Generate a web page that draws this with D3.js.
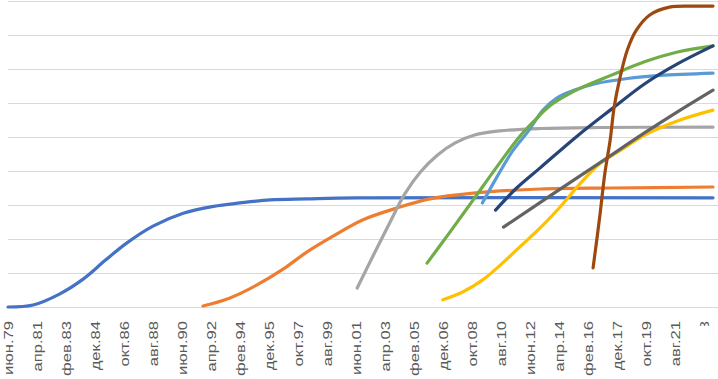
<!DOCTYPE html>
<html>
<head>
<meta charset="utf-8">
<script src="https://cdn.jsdelivr.net/npm/d3@7"></script>
<style>
  body { margin: 0; background: #fff; }
  svg { display: block; }
</style>
</head>
<body>
<div id="chart"></div>
<script>
// tick labels, every 22 months from June 1979
const tickLabels = ['июн.79', 'апр.81', 'фев.83', 'дек.84', 'окт.86', 'авг.88', 'июн.90',
  'апр.92', 'фев.94', 'дек.95', 'окт.97', 'авг.99', 'июн.01', 'апр.03', 'фев.05', 'дек.06',
  'окт.08', 'авг.10', 'июн.12', 'апр.14', 'фев.16', 'дек.17', 'окт.19', 'авг.21', 'июн.23'];

const s1 = [['1979-06', 0], ['1981-01', 0.6], ['1982-09', 3.8], ['1984-03', 8.2], ['1985-08', 13.8],
  ['1986-12', 18.8], ['1988-08', 23.8], ['1990-07', 27.6], ['1992-06', 29.6], ['1994-02', 30.6],
  ['1996-01', 31.5], ['1998-05', 31.8], ['2001-07', 32.1], ['2024-01', 32.1]];
const s2 = [['1991-10', 0.3], ['1993-06', 2.6], ['1995-03', 6.5], ['1996-11', 11.2], ['1998-05', 16.2],
  ['2000-01', 20.9], ['2001-11', 25.6], ['2004-01', 29.1], ['2006-02', 31.8], ['2008-11', 33.5],
  ['2013-02', 34.7], ['2017-09', 35], ['2024-01', 35.3]];
const s3 = [['2001-07', 5.6], ['2002-07', 15], ['2003-08', 25], ['2004-07', 33.2], ['2005-07', 39.7],
  ['2006-08', 44.7], ['2007-09', 48.2], ['2008-12', 50.6], ['2010-07', 51.8], ['2013-02', 52.5],
  ['2016-11', 52.8], ['2024-01', 52.9]];
const s4 = [['2006-12', 2.1], ['2008-03', 4.4], ['2009-06', 7.9], ['2010-07', 12.1], ['2011-08', 16.8],
  ['2013-04', 24.1], ['2014-05', 29.4], ['2015-08', 36.2], ['2016-11', 42.1], ['2018-02', 45.9],
  ['2019-11', 50.9], ['2021-12', 55], ['2024-01', 57.9]];
const s5 = [['2009-06', 30.6], ['2010-05', 38.2], ['2011-05', 45.9], ['2012-05', 51.8], ['2013-04', 57.9],
  ['2014-03', 61.6], ['2015-04', 63.8], ['2016-07', 65.6], ['2018-08', 67.2], ['2020-09', 68.1],
  ['2024-01', 68.8]];
const s6 = [['2005-12', 12.9], ['2007-05', 21.8], ['2008-11', 31.5], ['2010-05', 41.2], ['2011-10', 50],
  ['2012-10', 55], ['2013-09', 59.1], ['2014-09', 62.1], ['2015-08', 64.3], ['2017-08', 68.2],
  ['2019-09', 72.1], ['2021-10', 75], ['2024-01', 76.8]];
const s7 = [['2010-04', 28.5], ['2011-08', 35], ['2013-02', 41], ['2015-07', 50.6],
  ['2017-08', 58.2], ['2019-09', 65.6], ['2021-10', 71.5], ['2024-01', 76.8]];
const s8 = [['2010-10', 23.5], ['2013-09', 32.6], ['2016-11', 42.4], ['2019-09', 51.2],
  ['2021-10', 57.4], ['2024-01', 63.8]];
const s9 = [['2016-06', 11.5], ['2016-11', 26.5], ['2017-03', 39.4], ['2017-07', 49.1], ['2017-10', 58.8],
  ['2018-02', 66.8], ['2018-08', 75.6], ['2019-03', 81.5], ['2020-01', 85.9], ['2021-04', 88.2],
  ['2022-10', 88.5], ['2024-01', 88.5]];

const series = [s1, s2, s3, s4, s5, s6, s7, s8, s9];
const colors = ['#4472C4', '#ED7D31', '#A5A5A5', '#FFC000', '#5B9BD5', '#70AD47', '#264478', '#636363', '#9E480E'];

const dimensions = { width: 718, height: 379 };
const parse = d3.timeParse('%Y-%m');

const svg = d3.select('#chart')
  .append('svg')
  .attr('width', dimensions.width)
  .attr('height', dimensions.height);

const x = d3.scaleTime()
  .domain([parse('1979-06'), parse('2024-01')])
  .range([8, 713]);

const y = d3.scaleLinear()
  .domain([0, 90])
  .range([307, 1]);

// gridlines
svg.append('g')
  .selectAll('line')
  .data(y.ticks(9))
  .join('line')
  .attr('x1', 8)
  .attr('x2', 718)
  .attr('y1', d => Math.round(y(d)) + 0.5)
  .attr('y2', d => Math.round(y(d)) + 0.5)
  .attr('stroke', '#d9d9d9')
  .attr('stroke-width', 1.2);

// x axis labels
const tickDates = tickLabels.map((_, i) => d3.timeMonth.offset(parse('1979-06'), i * 22));

svg.append('clipPath')
  .attr('id', 'lastClip')
  .append('rect')
  .attr('x', 690).attr('y', 300).attr('width', 40).attr('height', 26);

const xAxis = svg.append('g')
  .attr('transform', 'translate(0, 307)')
  .call(d3.axisBottom(x).tickValues(tickDates).tickFormat((d, i) => tickLabels[i]).tickSize(0));

xAxis.select('.domain').remove();
xAxis.selectAll('.tick text')
  .attr('fill', '#595959')
  .attr('font-family', 'Liberation Sans, Arial, sans-serif')
  .attr('font-size', 13)
  .attr('text-anchor', 'end')
  .attr('dy', '0.35em')
  .attr('y', 0)
  .attr('transform', 'translate(0, 14) rotate(-90) scale(1.28, 1)');

// the last label is cut off in the picture, keep only its top
xAxis.selectAll('.tick')
  .filter((d, i) => i === tickLabels.length - 1)
  .each(function () {
    const g = d3.select(this);
    const t = g.attr('transform');
    const inner = g.append('g').attr('transform', t + ' translate(0,307)');
    inner.node().appendChild(g.select('text').node());
    g.attr('clip-path', 'url(#lastClip)').attr('transform', 'translate(0,-307)');
  });

// series lines
const line = d3.line()
  .x(d => x(parse(d[0])))
  .y(d => y(d[1]))
  .curve(d3.curveCatmullRom.alpha(0.5));

svg.append('g')
  .selectAll('path')
  .data(series)
  .join('path')
  .attr('d', d => line(d))
  .attr('fill', 'none')
  .attr('stroke', (_, i) => colors[i])
  .attr('stroke-width', 3.2)
  .attr('stroke-linecap', 'round')
  .attr('stroke-linejoin', 'round');
</script>
</body>
</html>
